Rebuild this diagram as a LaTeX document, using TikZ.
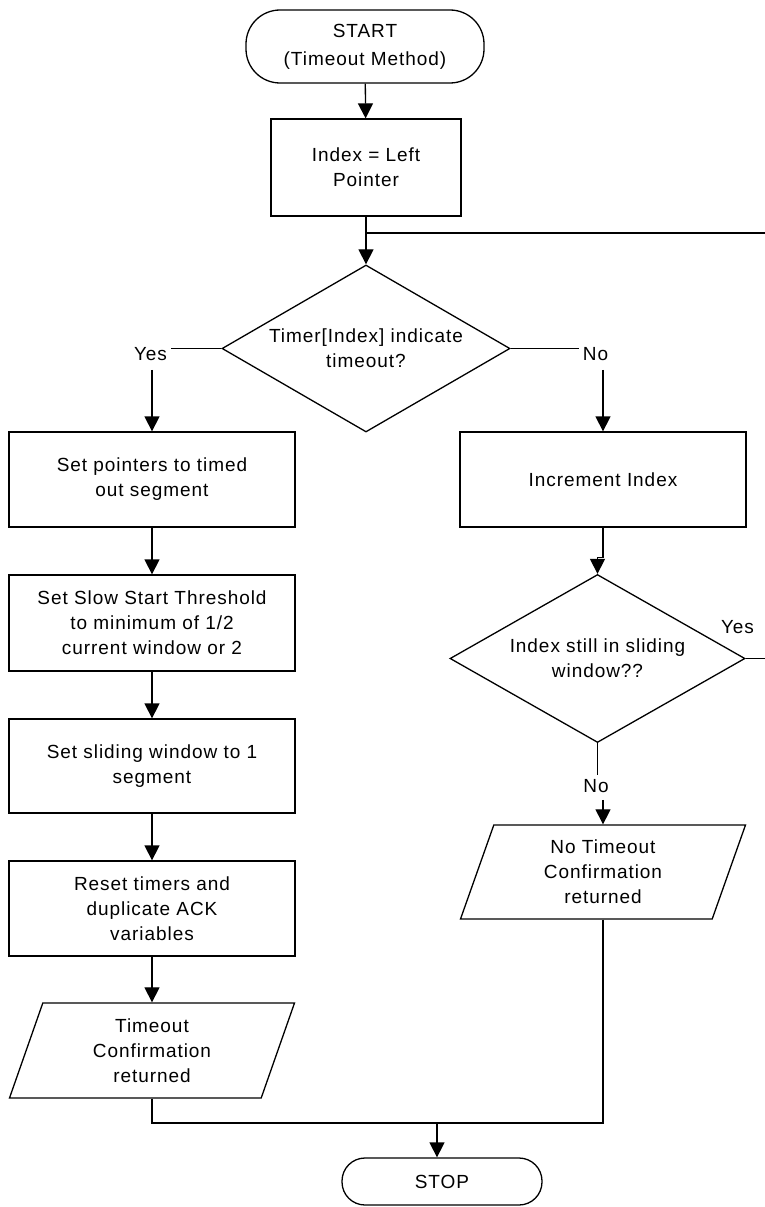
\documentclass[tikz,border=0pt]{standalone}
\usepackage{fontspec}
\setmainfont{Liberation Sans}[LetterSpace=5]
\usetikzlibrary{shapes.geometric,arrows.meta}
\begin{document}
\begin{tikzpicture}[x=1pt,y=-1pt,line width=1.3pt,
  every node/.style={font=\fontsize{19}{25}\selectfont},
  box/.style={draw, rectangle, minimum width=286pt, minimum height=95pt,
    align=center, inner sep=2pt},
  term/.style={draw, rectangle, align=center, inner sep=0pt},
  decision/.style={draw, diamond, shape aspect=1.72, inner sep=0pt, align=center},
  io/.style={draw, trapezium, trapezium left angle=63.2, trapezium right angle=116.8,
    trapezium stretches body, minimum width=285pt, minimum height=95pt,
    inner sep=1pt, align=center},
  lbl/.style={inner sep=3pt, anchor=base},
  arr/.style={-{Triangle[length=15pt,width=15pt]}}]
\useasboundingbox (0,0) rectangle (765,1207);
\clip (0,0) rectangle (765,1207);

% terminals
\node[term, rounded corners=34pt, minimum width=238pt, minimum height=73pt,
  font=\fontsize{19}{28}\selectfont] (start) at (365,46.5) {START\\(Timeout Method)};
\node[term, rounded corners=23pt, minimum width=200pt, minimum height=47pt]
  (stop) at (442,1181.5) {STOP};

% main column
\node[box, minimum width=190pt, minimum height=97pt] (idx) at (366,167.5) {Index = Left\\Pointer};
\coordinate (top) at (366,233);
\node[decision, minimum width=288pt, minimum height=167pt] (d1) at (366,348.5)
  {Timer[Index] indicate\\timeout?};

% timeout branch
\node[box] (l1) at (152,479.5) {Set pointers to timed\\out segment};
\node[box, minimum height=96pt] (l2) at (152,623) {Set Slow Start Threshold\\to minimum of 1/2\\current window or 2};
\node[box, minimum height=94pt] (l3) at (152,766) {Set sliding window to 1\\segment};
\node[box] (l4) at (152,908.5) {Reset timers and\\duplicate ACK\\variables};
\node[io] (lpar) at (152,1050.5) {Timeout\\Confirmation\\returned};

% no-timeout branch
\node[box] (inc) at (603,479.5) {Increment Index};
\node[decision, minimum width=295pt, minimum height=168pt] (d2) at (597.5,658.5)
  {Index still in sliding\\window??};
\node[io, minimum height=94pt] (rpar) at (603,872) {No Timeout\\Confirmation\\returned};

% branch labels
\node[lbl] (yes1) at (150.5,360) {Yes};
\node[lbl] (no1) at (595.5,360) {No};
\node[lbl] (yes2) at (737.5,633) {Yes};
\node[lbl] (no2) at (596,792) {No};

% connectors
\draw[arr] (start) -- (idx);
\draw[arr] (idx) -- (d1);
\draw (d1.west) -- (d1.west -| yes1.east);
\draw[arr, shorten <=6pt] (yes1.south -| l1.north) -- (l1.north);
\draw (d1.east) -- (d1.east -| no1.west);
\draw[arr, shorten <=6pt] (no1.south -| inc.north) -- (inc.north);
\draw[arr] (l1) -- (l2);
\draw[arr] (l2) -- (l3);
\draw[arr] (l3) -- (l4);
\draw[arr] (l4) -- (lpar);
\draw[arr] (inc.south) -- ++(0,30) -| (d2.north);
\draw (d2.east) -- ++(40,0) |- (top);
\draw (d2.south) -- (d2.south |- no2.north);
\draw[arr, shorten <=4pt] (no2.south -| rpar.north) -- (rpar.north);
\coordinate (join) at (437,1123);
\draw (lpar) |- (join);
\draw (rpar) |- (join);
\draw[arr] (join) -- (join |- stop.north);
\end{tikzpicture}
\end{document}
